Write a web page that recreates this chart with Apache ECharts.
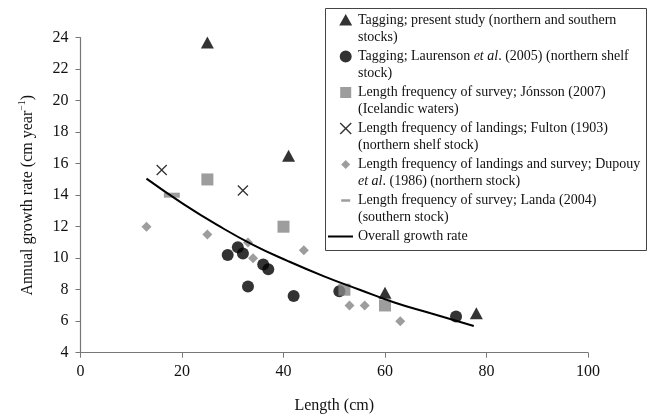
<!DOCTYPE html>
<html><head><meta charset="utf-8">
<script src="https://cdn.jsdelivr.net/npm/echarts@6/dist/echarts.min.js"></script>
<style>html,body{margin:0;padding:0;background:#fff}#c{width:651px;height:414px}</style>
</head><body><div id="c"></div>
<script>
// ---- data ----
var tagPresent = [[25, 23.7], [41, 16.5], [60, 7.8], [78, 6.5]];
var tagLaurenson = [[29, 10.2], [31, 10.7], [32, 10.3], [33, 8.2], [36, 9.6], [37, 9.3], [42, 7.6], [51, 7.9], [74, 6.3]];
var lfJonsson = [[25, 15.0], [40, 12.0], [52, 8.0], [60, 7.0]];
var lfFulton = [[16, 15.6], [32, 14.3]];
var lfDupouy = [[13, 12.0], [25, 11.5], [33, 11.0], [34, 10.0], [44, 10.5], [53, 7.0], [56, 7.0], [63, 6.0]];
var lfLanda = [[18, 14.0]];
var curveX = [13, 20, 27, 34, 41, 48, 55, 62, 69, 77.5];
var curveY = [15.05, 13.5, 12.1, 10.85, 9.8, 8.85, 8.0, 7.17, 6.5, 5.7];
var xTicks = [0, 20, 40, 60, 80, 100];
var yTicks = [4, 6, 8, 10, 12, 14, 16, 18, 20, 22, 24];

var legendText = {
  tag: '{n|Tagging; present study (northern and southern}\n{n|stocks)}',
  laur: '{n|Tagging; Laurenson }{i|et al}{n|. (2005) (northern shelf}\n{n|stock)}',
  jon: '{n|Length frequency of survey; Jónsson (2007)}\n{n|(Icelandic waters)}',
  ful: '{n|Length frequency of landings; Fulton (1903)}\n{n|(northern shelf stock)}',
  dup: '{n|Length frequency of landings and survey; Dupouy}\n{i|et al}{n|. (1986) (northern stock)}',
  lan: '{n|Length frequency of survey; Landa (2004)}\n{n|(southern stock)}',
  all: '{n|Overall growth rate}\n{n| }'
};

var SERIF = '"Liberation Serif","Times New Roman",serif';
var GRAY = '#858585';
var xPath = 'M0,1L1,0L6,5L11,0L12,1L7,6L12,11L11,12L6,7L1,12L0,11L5,6Z';
// legend icon box 25x34, shape placed on the first text line
var pin = 'M0,0L0.01,0M25,34L24.99,34';
function ic(p) { return 'path://' + p + pin; }
var legIcons = {
  tag: ic('M17.7,2L24.2,13.5L11.2,13.5Z'),
  laur: ic('M11.7,8.5A6,6 0 1 1 23.7,8.5A6,6 0 1 1 11.7,8.5Z'),
  jon: ic('M12.2,3L23.2,3L23.2,14L12.2,14Z'),
  ful: ic('M11.7,3.5L12.7,2.5L17.7,7.5L22.7,2.5L23.7,3.5L18.7,8.5L23.7,13.5L22.7,14.5L17.7,9.5L12.7,14.5L11.7,13.5L16.7,8.5Z'),
  dup: ic('M17.7,4L22.2,8.5L17.7,13L13.2,8.5Z'),
  lan: ic('M13.2,7.3L22.2,7.3L22.2,9.7L13.2,9.7Z'),
  all: ic('M0,7.6L25,7.6L25,9.4L0,9.4Z')
};

var curveData = curveX.map(function (x, i) { return [x, curveY[i]]; });

var chart = echarts.init(document.getElementById('c'), null, { renderer: 'canvas' });
var richN = { fontFamily: SERIF, fontSize: 14, lineHeight: 17, color: '#111' };
var richI = { fontFamily: SERIF, fontSize: 14, lineHeight: 17, color: '#111', fontStyle: 'italic' };

chart.setOption({
  animation: false,
  backgroundColor: '#fff',
  graphic: [{
    type: 'rect', z: 3, left: 325, top: 8,
    shape: { width: 321, height: 242 },
    style: { fill: '#fff', stroke: '#444', lineWidth: 1 }
  }],
  grid: { left: 80.5, right: 63, top: 37.7, bottom: 61.3, outerBoundsMode: 'none' },
  legend: {
    orient: 'vertical', left: 328, top: 12, padding: 0, itemGap: 2,
    itemWidth: 25, itemHeight: 34, z: 5,
    selectedMode: false,
    itemStyle: { borderWidth: 0 },
    data: [
      { name: 'tag', icon: legIcons.tag, itemStyle: { color: '#000', borderWidth: 0 } },
      { name: 'laur', icon: legIcons.laur, itemStyle: { color: '#000', borderWidth: 0 } },
      { name: 'jon', icon: legIcons.jon, itemStyle: { color: GRAY, borderWidth: 0 } },
      { name: 'ful', icon: legIcons.ful, itemStyle: { color: '#000', borderWidth: 0 } },
      { name: 'dup', icon: legIcons.dup, itemStyle: { color: GRAY, borderWidth: 0 } },
      { name: 'lan', icon: legIcons.lan, itemStyle: { color: GRAY, borderWidth: 0 } },
      { name: 'all', icon: legIcons.all, itemStyle: { color: '#000', borderWidth: 0 } }
    ],
    formatter: function (n) { return legendText[n]; },
    textStyle: { fontFamily: SERIF, fontSize: 14, lineHeight: 17, color: '#111', rich: { n: richN, i: richI } }
  },
  xAxis: {
    type: 'value', min: 0, max: 100, interval: 20,
    name: 'Length (cm)', nameLocation: 'middle', nameGap: 45,
    nameTextStyle: { fontFamily: SERIF, fontSize: 16, color: '#111' },
    axisLine: { show: true, lineStyle: { color: '#777', width: 1.2 } },
    axisTick: { show: true, length: 5, lineStyle: { color: '#777' } },
    axisLabel: { fontFamily: SERIF, fontSize: 16, color: '#111', margin: 11,
      formatter: function (v) { return xTicks.indexOf(v) >= 0 ? String(v) : ''; } },
    splitLine: { show: false }
  },
  yAxis: {
    type: 'value', min: 4, max: 24, interval: 2,
    name: '{a|Annual growth rate (cm year}{s|−1}{a|)}', nameLocation: 'middle', nameGap: 43, nameRotate: 90,
    nameTextStyle: { fontFamily: SERIF, fontSize: 16, color: '#111',
      rich: { a: { fontFamily: SERIF, fontSize: 16, color: '#111', lineHeight: 20 },
              s: { fontFamily: SERIF, fontSize: 10, color: '#111', verticalAlign: 'top', lineHeight: 12 } } },
    axisLine: { show: true, lineStyle: { color: '#777', width: 1.2 } },
    axisTick: { show: true, length: 5, lineStyle: { color: '#777' } },
    axisLabel: { fontFamily: SERIF, fontSize: 16, color: '#111', margin: 12,
      formatter: function (v) { return yTicks.indexOf(v) >= 0 ? String(v) : ''; } },
    splitLine: { show: false }
  },
  series: [
    { name: 'tag', type: 'scatter', data: tagPresent, symbol: 'triangle', symbolSize: [13, 12], itemStyle: { color: '#000' } },
    { name: 'laur', type: 'scatter', data: tagLaurenson, symbol: 'circle', symbolSize: 12, itemStyle: { color: '#000' } },
    { name: 'jon', type: 'scatter', data: lfJonsson, symbol: 'rect', symbolSize: 12, itemStyle: { color: GRAY } },
    { name: 'ful', type: 'scatter', data: lfFulton, symbol: 'path://' + xPath, symbolSize: 11, itemStyle: { color: '#000' } },
    { name: 'dup', type: 'scatter', data: lfDupouy, symbol: 'diamond', symbolSize: 10, itemStyle: { color: GRAY } },
    { name: 'lan', type: 'scatter', data: lfLanda, symbol: 'rect', symbolSize: [16, 5], itemStyle: { color: GRAY } },
    { name: 'all', type: 'line', data: curveData, smooth: 0.5, showSymbol: false, symbol: 'none',
      lineStyle: { color: '#000', width: 2 }, itemStyle: { color: '#000' }, z: 3 }
  ]
});
</script>
</body></html>
